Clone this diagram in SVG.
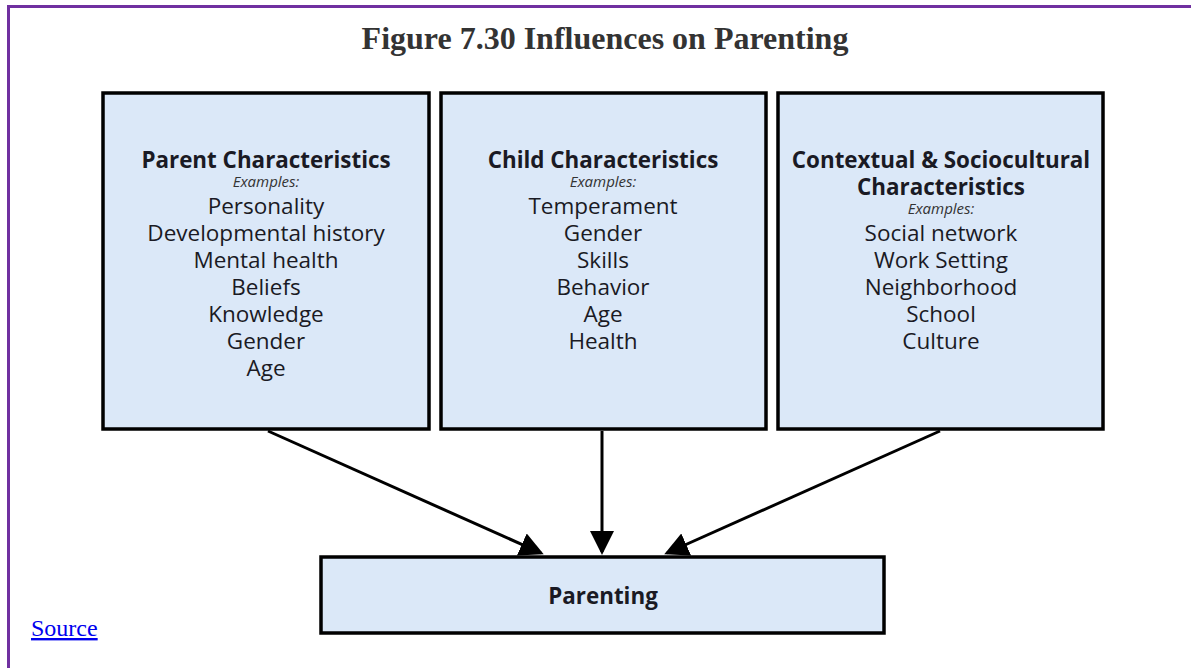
<svg xmlns="http://www.w3.org/2000/svg" width="1191" height="668" viewBox="0 0 1191 668">
<style>
.box{fill:#dbe8f8;stroke:#000;stroke-width:3.5}
.h{font-family:"Open Sans",sans-serif;font-weight:bold;font-size:22.4px;fill:#1a1a24;text-anchor:middle}
.ex{font-family:"Open Sans",sans-serif;font-style:italic;font-size:15px;fill:#333;text-anchor:middle}
.it{font-family:"Open Sans",sans-serif;font-size:22.5px;fill:#1a1a24;text-anchor:middle}
.conn{stroke:#000;stroke-width:3;fill:none;marker-end:url(#ah)}
</style>
<defs>
<marker id="ah" markerWidth="8" markerHeight="8" refX="7" refY="4" orient="auto" markerUnits="strokeWidth">
<path d="M0,0 L8,4 L0,8 z" fill="#000"/>
</marker>
</defs>
<rect width="1191" height="668" fill="#fff"/>
<path d="M8.5,668 V6.5 H1191" stroke="#7030a0" stroke-width="3" fill="none"/>
<text x="605" y="49" font-family="Liberation Serif, serif" font-weight="bold" font-size="32" fill="#333" text-anchor="middle">Figure 7.30 Influences on Parenting</text>
<g id="connectors">
<line class="conn" x1="268" y1="431" x2="541" y2="553"/>
<line class="conn" x1="602" y1="431" x2="602" y2="552"/>
<line class="conn" x1="940" y1="431" x2="667" y2="553"/>
</g>
<g id="parent">
<rect class="box" x="103" y="93" width="326" height="336"/>
<text class="h" x="266" y="168">Parent Characteristics</text>
<text class="ex" x="266" y="187">Examples:</text>
<text class="it" x="266" y="214">Personality</text>
<text class="it" x="266" y="241">Developmental history</text>
<text class="it" x="266" y="268">Mental health</text>
<text class="it" x="266" y="295">Beliefs</text>
<text class="it" x="266" y="322">Knowledge</text>
<text class="it" x="266" y="349">Gender</text>
<text class="it" x="266" y="376">Age</text>
</g>
<g id="child">
<rect class="box" x="441" y="93" width="325" height="336"/>
<text class="h" x="603" y="168">Child Characteristics</text>
<text class="ex" x="603" y="187">Examples:</text>
<text class="it" x="603" y="214">Temperament</text>
<text class="it" x="603" y="241">Gender</text>
<text class="it" x="603" y="268">Skills</text>
<text class="it" x="603" y="295">Behavior</text>
<text class="it" x="603" y="322">Age</text>
<text class="it" x="603" y="349">Health</text>
</g>
<g id="context">
<rect class="box" x="778" y="93" width="325" height="336"/>
<text class="h" x="941" y="168">Contextual &amp; Sociocultural</text>
<text class="h" x="941" y="195">Characteristics</text>
<text class="ex" x="941" y="214">Examples:</text>
<text class="it" x="941" y="241">Social network</text>
<text class="it" x="941" y="268">Work Setting</text>
<text class="it" x="941" y="295">Neighborhood</text>
<text class="it" x="941" y="322">School</text>
<text class="it" x="941" y="349">Culture</text>
</g>
<g id="parenting">
<rect class="box" x="321" y="557" width="563" height="76"/>
<text class="h" x="603" y="604">Parenting</text>
</g>
<text x="31" y="636" font-family="Liberation Serif, serif" font-size="24" fill="#0000ee" text-decoration="underline">Source</text>
</svg>
